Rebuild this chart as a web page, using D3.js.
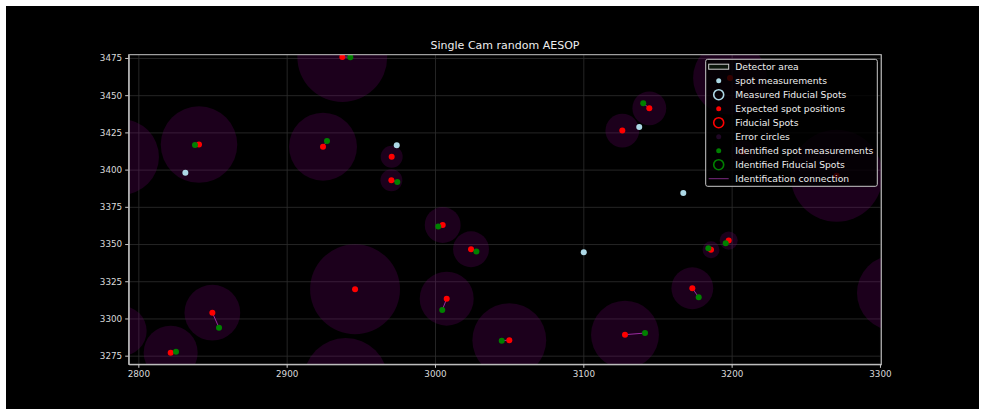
<!DOCTYPE html>
<head>
  <meta charset="utf-8">
  <script src="https://d3js.org/d3.v7.min.js"></script>
  <style type="text/css">
    body { margin:0; background:#fff; }
    text { font-family: "DejaVu Sans", sans-serif; }
    .grid line { stroke: #2e2e2e; stroke-width: 0.8; }
    .axis path, .axis line { stroke: #c8c8c8; }
    .axis text { fill: #d8d8d8; font-size: 8.8px; }
    .err { fill: rgb(128,0,128); fill-opacity: 0.22; }
    .conn { stroke: #9a2aa0; stroke-width: 1; }
  </style>
</head>
<body>
<script>
// expected spot positions: [x, y, error radius]
var expected = [
  [2788.3, 3408.5, 25.6], [2840.9, 3416.8, 25.8], [2937.5, 3475.7, 30.3],
  [2924.5, 3415.4, 22.9], [2970.8, 3408.7, 7.4], [2970.6, 3392.8, 7.4],
  [2788.8, 3291.6, 16.8], [2821.8, 3277.0, 18.2], [2849.9, 3303.9, 18.8],
  [2946.1, 3319.6, 30.3], [2939.8, 3258.7, 28.3], [3005.2, 3362.8, 12.1],
  [3024.3, 3346.5, 12.1], [3007.9, 3313.3, 18.2], [3050.1, 3285.4, 24.9],
  [3128.1, 3289.1, 22.9], [3173.5, 3320.3, 14.1], [3186.1, 3346.2, 5.7],
  [3198.0, 3352.3, 6.1], [3144.5, 3441.2, 11.4], [3126.3, 3426.2, 11.4],
  [3270.8, 3395.9, 31.0], [3310.1, 3317.1, 25.6], [3198.9, 3461.6, 24.9],
  [3207.6, 3411.8, 8.0]
];
// identified measurements: [x, y, index of expected spot]
var identified = [
  [2838.2, 3416.6, 1], [2942.9, 3475.5, 2], [2927.2, 3419.2, 3],
  [2974.6, 3391.7, 5], [2825.4, 3277.7, 7], [2854.4, 3293.8, 8],
  [3002.2, 3361.7, 11], [3027.9, 3344.9, 12], [3004.9, 3305.7, 13],
  [3045.0, 3285.1, 14], [3141.6, 3290.2, 15], [3177.8, 3314.2, 16],
  [3184.3, 3347.2, 17], [3196.0, 3350.5, 18], [3140.4, 3444.6, 19]
];
// unidentified spot measurements
var measured = [
  [2831.7, 3397.9], [2974.2, 3416.4], [3100.3, 3344.5],
  [3137.7, 3428.6], [3167.4, 3384.3]
];
var xTicks = [2800, 2900, 3000, 3100, 3200, 3300];
var yTicks = [3275, 3300, 3325, 3350, 3375, 3400, 3425, 3450, 3475];
var legendLabels = ["Detector area", "spot measurements", "Measured Fiducial Spots",
  "Expected spot positions", "Fiducial Spots", "Error circles",
  "Identified spot measurements", "Identified Fiducial Spots", "Identification connection"];

var margin = {top: 54.7, left: 128.7}, width = 752.6, height = 309.6;

var svg = d3.select("body").append("svg").attr("width", 985).attr("height", 415);
svg.append("rect").attr("x", 6).attr("y", 6).attr("width", 973).attr("height", 403).attr("fill", "#000");

var xScale = d3.scaleLinear().domain([2793.5, 3300.9]).range([0, width]);
var yScale = d3.scaleLinear().domain([3269.2, 3477.2]).range([height, 0]);
var rpx = function(r) { return xScale(r + 3000) - xScale(3000); };

var g = svg.append("g").attr("transform", "translate(" + margin.left + "," + margin.top + ")");

g.append("clipPath").attr("id", "clip").append("rect").attr("width", width).attr("height", height);

// grid
g.append("g").attr("class", "grid")
  .attr("transform", "translate(0," + height + ")")
  .call(d3.axisBottom(xScale).tickValues(xTicks).tickSize(-height).tickFormat(""))
  .call(function(s) { s.select(".domain").remove(); });
g.append("g").attr("class", "grid")
  .call(d3.axisLeft(yScale).tickValues(yTicks).tickSize(-width).tickFormat(""))
  .call(function(s) { s.select(".domain").remove(); });

var plot = g.append("g").attr("clip-path", "url(#clip)");

plot.selectAll(".err").data(expected).enter().append("circle")
  .attr("class", "err")
  .attr("cx", function(d) { return xScale(d[0]); })
  .attr("cy", function(d) { return yScale(d[1]); })
  .attr("r", function(d) { return rpx(d[2]); });

plot.selectAll(".conn").data(identified).enter().append("line")
  .attr("class", "conn")
  .attr("x1", function(d) { return xScale(d[0]); })
  .attr("y1", function(d) { return yScale(d[1]); })
  .attr("x2", function(d) { return xScale(expected[d[2]][0]); })
  .attr("y2", function(d) { return yScale(expected[d[2]][1]); });

plot.selectAll(".meas").data(measured).enter().append("circle")
  .attr("cx", function(d) { return xScale(d[0]); })
  .attr("cy", function(d) { return yScale(d[1]); })
  .attr("r", 3).attr("fill", "#add8e6");

plot.selectAll(".exp").data(expected).enter().append("circle")
  .attr("cx", function(d) { return xScale(d[0]); })
  .attr("cy", function(d) { return yScale(d[1]); })
  .attr("r", 3).attr("fill", "#ff0000");

plot.selectAll(".ident").data(identified).enter().append("circle")
  .attr("cx", function(d) { return xScale(d[0]); })
  .attr("cy", function(d) { return yScale(d[1]); })
  .attr("r", 3).attr("fill", "#008000");

// axes
g.append("g").attr("class", "axis")
  .attr("transform", "translate(0," + height + ")")
  .call(d3.axisBottom(xScale).tickValues(xTicks).tickFormat(d3.format("d"))
    .tickSize(3.5).tickSizeOuter(0).tickPadding(3));
g.append("g").attr("class", "axis")
  .call(d3.axisLeft(yScale).tickValues(yTicks).tickFormat(d3.format("d"))
    .tickSize(3.5).tickSizeOuter(0).tickPadding(3));
g.append("rect").attr("width", width).attr("height", height)
  .attr("fill", "none").attr("stroke", "#c8c8c8");

// title
svg.append("text").attr("x", margin.left + width / 2).attr("y", 49)
  .attr("text-anchor", "middle").attr("fill", "#eee").style("font-size", "11px")
  .text("Single Cam random AESOP");

// legend
var lg = svg.append("g").attr("transform", "translate(705.7,59.3)");
lg.append("rect").attr("width", 171.6).attr("height", 127).attr("rx", 2)
  .attr("fill", "#000").attr("fill-opacity", 0.8).attr("stroke", "#c8c8c8");
var row = function(i) { return 7.4 + i * 14; };
var hx = 13;
lg.append("rect").attr("x", hx - 10).attr("y", row(0) - 2.5).attr("width", 20).attr("height", 5)
  .attr("fill", "#0b150b").attr("stroke", "#d0d0d0");
lg.append("circle").attr("cx", hx).attr("cy", row(1)).attr("r", 2.5).attr("fill", "#add8e6");
lg.append("circle").attr("cx", hx).attr("cy", row(2)).attr("r", 5).attr("fill", "none").attr("stroke", "#add8e6").attr("stroke-width", 1.6);
lg.append("circle").attr("cx", hx).attr("cy", row(3)).attr("r", 2.5).attr("fill", "#ff0000");
lg.append("circle").attr("cx", hx).attr("cy", row(4)).attr("r", 5).attr("fill", "none").attr("stroke", "#ff0000").attr("stroke-width", 1.6);
lg.append("circle").attr("cx", hx).attr("cy", row(5)).attr("r", 2.5).attr("fill", "#200826");
lg.append("circle").attr("cx", hx).attr("cy", row(6)).attr("r", 2.5).attr("fill", "#008000");
lg.append("circle").attr("cx", hx).attr("cy", row(7)).attr("r", 5).attr("fill", "none").attr("stroke", "#008000").attr("stroke-width", 1.6);
lg.append("line").attr("x1", hx - 10).attr("x2", hx + 10).attr("y1", row(8)).attr("y2", row(8))
  .attr("stroke", "#7a2a80").attr("stroke-width", 1);
lg.selectAll(".lt").data(legendLabels).enter().append("text")
  .attr("x", 29.6).attr("y", function(d, i) { return row(i) + 3.2; })
  .attr("fill", "#eee").style("font-size", "9.2px")
  .text(function(d) { return d; });
</script>
</body>
